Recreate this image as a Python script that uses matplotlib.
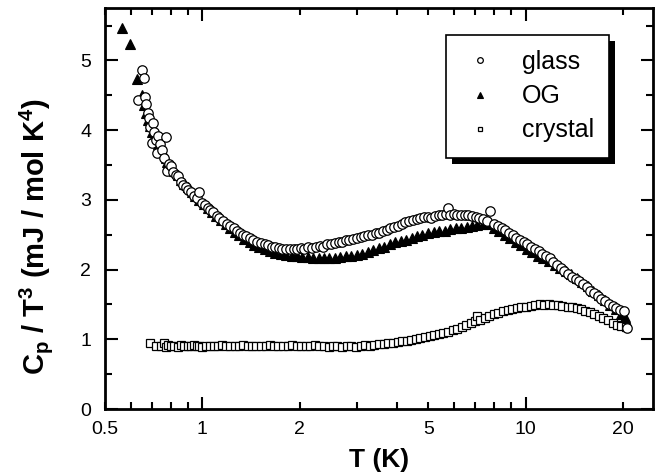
import matplotlib
matplotlib.use("Agg")
import matplotlib.pyplot as plt
from matplotlib.ticker import FixedLocator, FuncFormatter
from matplotlib.patches import Rectangle

plt.rcParams['font.family'] = ['Liberation Sans', 'DejaVu Sans']
plt.rcParams['mathtext.default'] = 'regular'

# ---------------- data ----------------
glass_T = [
    0.634, 0.65, 0.66, 0.665, 0.67, 0.68, 0.685, 0.69, 0.70, 0.705,
    0.71, 0.72, 0.725, 0.73, 0.74, 0.75, 0.76, 0.77, 0.78, 0.79,
    0.80, 0.81, 0.83, 0.84, 0.86, 0.87, 0.89, 0.90, 0.92, 0.94,
    0.96, 0.98, 1.00, 1.02, 1.04, 1.06, 1.08, 1.11, 1.13, 1.16,
    1.19, 1.22, 1.25, 1.28, 1.31, 1.34, 1.37, 1.40, 1.44, 1.48,
    1.52, 1.56, 1.60, 1.64, 1.68, 1.73, 1.77, 1.82, 1.87, 1.92,
    1.97, 2.02, 2.07, 2.13, 2.19, 2.25, 2.31, 2.37, 2.43, 2.50,
    2.57, 2.64, 2.71, 2.78, 2.85, 2.93, 3.01, 3.09, 3.17, 3.26,
    3.35, 3.44, 3.53, 3.62, 3.72, 3.82, 3.92, 4.03, 4.14, 4.25,
    4.36, 4.48, 4.60, 4.72, 4.85, 4.98, 5.11, 5.25, 5.39, 5.53,
    5.68, 5.75, 5.83, 5.99, 6.15, 6.31, 6.48, 6.65, 6.83, 7.01,
    7.20, 7.39, 7.59, 7.79, 8.00, 8.21, 8.43, 8.66, 8.89, 9.13,
    9.37, 9.62, 9.88, 10.14, 10.41, 10.69, 10.98, 11.27, 11.57, 11.88,
    12.20, 12.52, 12.86, 13.20, 13.55, 13.92, 14.29, 14.67, 15.06, 15.46,
    15.88, 16.30, 16.74, 17.18, 17.64, 18.11, 18.60, 19.09, 19.60, 20.12,
    20.6,
]
glass_C = [
    4.43, 4.86, 4.75, 4.48, 4.38, 4.25, 4.18, 4.05, 3.82, 4.10,
    3.98, 3.86, 3.67, 3.92, 3.80, 3.72, 3.60, 3.90, 3.42, 3.52,
    3.48, 3.40, 3.36, 3.34, 3.26, 3.22, 3.18, 3.14, 3.12, 3.05,
    3.02, 3.12, 2.95, 2.92, 2.88, 2.85, 2.82, 2.77, 2.74, 2.70,
    2.66, 2.62, 2.60, 2.56, 2.53, 2.50, 2.48, 2.45, 2.42, 2.40,
    2.38, 2.36, 2.35, 2.33, 2.32, 2.31, 2.30, 2.30, 2.29, 2.30,
    2.29, 2.31, 2.30, 2.32, 2.31, 2.33, 2.34, 2.33, 2.36, 2.37,
    2.38, 2.40, 2.39, 2.42, 2.43, 2.44, 2.46, 2.47, 2.48, 2.50,
    2.50, 2.52, 2.53, 2.55, 2.57, 2.59, 2.61, 2.63, 2.65, 2.68,
    2.70, 2.71, 2.73, 2.74, 2.75, 2.76, 2.74, 2.77, 2.78, 2.79,
    2.80, 2.88, 2.79, 2.80, 2.79, 2.78, 2.79, 2.78, 2.77, 2.76,
    2.74, 2.73, 2.70, 2.84, 2.66, 2.62, 2.60, 2.57, 2.53, 2.50,
    2.46, 2.43, 2.40, 2.36, 2.33, 2.30, 2.26, 2.23, 2.20, 2.16,
    2.11, 2.07, 2.02, 1.98, 1.94, 1.90, 1.86, 1.83, 1.79, 1.75,
    1.70, 1.66, 1.62, 1.58, 1.55, 1.51, 1.48, 1.45, 1.42, 1.40,
    1.16,
]

og_T = [
    0.563, 0.597, 0.627, 0.650, 0.660, 0.67, 0.68, 0.69, 0.70, 0.71,
    0.72, 0.73, 0.74, 0.75, 0.77, 0.78, 0.80, 0.82, 0.84, 0.86,
    0.88, 0.90, 0.93, 0.95, 0.98, 1.01, 1.04, 1.07, 1.10, 1.14,
    1.18, 1.22, 1.26, 1.30, 1.35, 1.40, 1.45, 1.50, 1.56, 1.62,
    1.68, 1.75, 1.82, 1.89, 1.96, 2.04, 2.12, 2.20, 2.29, 2.38,
    2.47, 2.57, 2.67, 2.78, 2.89, 3.00, 3.12, 3.25, 3.38, 3.51,
    3.65, 3.80, 3.95, 4.11, 4.27, 4.44, 4.62, 4.80, 5.00, 5.20,
    5.41, 5.62, 5.85, 6.08, 6.32, 6.57, 6.83, 7.10, 7.38, 7.68,
    7.98, 8.30, 8.63, 8.97, 9.33, 9.70, 10.1, 10.5, 10.9, 11.3,
    11.8, 12.3, 12.8, 13.3, 13.8, 14.4, 15.0, 15.6, 16.2, 16.9,
    17.6, 18.3, 19.0, 19.7, 20.3,
]
og_C = [
    5.46, 5.23, 4.74, 4.51, 4.36, 4.24, 4.14, 4.06, 3.98, 3.92,
    3.86, 3.80, 3.74, 3.69, 3.60, 3.55, 3.48, 3.41, 3.35, 3.29,
    3.23, 3.18, 3.11, 3.06, 3.00, 2.94, 2.88, 2.82, 2.77, 2.71,
    2.65, 2.59, 2.54, 2.49, 2.44, 2.39, 2.35, 2.32, 2.29, 2.26,
    2.24, 2.22, 2.21, 2.20, 2.19, 2.18, 2.18, 2.17, 2.17, 2.16,
    2.17, 2.17, 2.18, 2.19, 2.20, 2.21, 2.23, 2.25, 2.28, 2.31,
    2.33, 2.36, 2.39, 2.41, 2.43, 2.46, 2.48, 2.50, 2.52, 2.54,
    2.55, 2.56, 2.58, 2.59, 2.60, 2.61, 2.63, 2.64, 2.65, 2.66,
    2.60, 2.55, 2.50, 2.45, 2.40, 2.35, 2.30, 2.25, 2.20, 2.16,
    2.12, 2.07, 2.02, 1.98, 1.94, 1.88, 1.82, 1.76, 1.70, 1.63,
    1.56, 1.49, 1.43, 1.37, 1.32,
]

crystal_T = [
    0.69, 0.72, 0.745, 0.76, 0.77, 0.785, 0.80, 0.82, 0.84, 0.86,
    0.88, 0.90, 0.92, 0.94, 0.96, 0.98, 1.00, 1.03, 1.06, 1.09,
    1.12, 1.15, 1.18, 1.22, 1.26, 1.30, 1.34, 1.38, 1.42, 1.47,
    1.52, 1.57, 1.62, 1.67, 1.72, 1.78, 1.84, 1.90, 1.96, 2.02,
    2.09, 2.16, 2.23, 2.30, 2.38, 2.46, 2.54, 2.62, 2.71, 2.80,
    2.89, 2.99, 3.09, 3.19, 3.30, 3.41, 3.52, 3.64, 3.76, 3.89,
    4.02, 4.15, 4.29, 4.43, 4.58, 4.73, 4.89, 5.05, 5.22, 5.39,
    5.57, 5.76, 5.95, 6.15, 6.35, 6.56, 6.78, 7.00, 7.10, 7.23,
    7.47, 7.72, 7.98, 8.24, 8.51, 8.80, 9.09, 9.39, 9.70, 10.0,
    10.4, 10.7, 11.1, 11.4, 11.8, 12.2, 12.6, 13.0, 13.5, 13.9,
    14.4, 14.8, 15.3, 15.8, 16.3, 16.9, 17.4, 18.0, 18.6, 19.2,
    19.8, 20.4,
]
crystal_C = [
    0.94, 0.91, 0.90, 0.95, 0.89, 0.92, 0.90, 0.91, 0.89, 0.92,
    0.90, 0.91, 0.90, 0.92, 0.90, 0.91, 0.89, 0.91, 0.90, 0.91,
    0.90, 0.92, 0.90, 0.91, 0.90, 0.91, 0.92, 0.90, 0.91, 0.90,
    0.91, 0.90, 0.92, 0.91, 0.90, 0.91, 0.90, 0.92, 0.91, 0.90,
    0.91, 0.90, 0.92, 0.90, 0.91, 0.89, 0.90, 0.91, 0.89, 0.90,
    0.91, 0.89, 0.90, 0.92, 0.91, 0.92, 0.93, 0.93, 0.94, 0.95,
    0.96, 0.97, 0.98, 0.99, 1.00, 1.02, 1.03, 1.05, 1.06, 1.08,
    1.09, 1.11, 1.13, 1.15, 1.17, 1.20, 1.23, 1.26, 1.34, 1.28,
    1.31, 1.34, 1.36, 1.38, 1.40, 1.42, 1.43, 1.45, 1.46, 1.47,
    1.48, 1.49, 1.50, 1.49, 1.50, 1.49, 1.49, 1.48, 1.47, 1.46,
    1.45, 1.43, 1.41, 1.39, 1.36, 1.33, 1.30, 1.27, 1.24, 1.21,
    1.19, 1.18,
]

x_major = [1, 10]
x_minor = [0.5, 0.6, 0.7, 0.8, 0.9, 2, 3, 4, 5, 6, 7, 8, 9, 20]
x_labelled = [0.5, 1, 2, 5, 10, 20]
y_major = [0, 1, 2, 3, 4, 5]
y_minor = [0.5, 1.5, 2.5, 3.5, 4.5, 5.5]

# ---------------- figure ----------------
fig = plt.figure(figsize=(6.56, 4.76), dpi=100)
ax = fig.add_axes([105 / 656, 1 - 409 / 476, (653 - 105) / 656, (409 - 7.5) / 476])

ax.plot(crystal_T, crystal_C, linestyle='none', marker='s', ms=5.5,
        mfc='white', mec='black', mew=0.9, label='crystal', zorder=2)
ax.plot(og_T, og_C, linestyle='none', marker='^', ms=7,
        mfc='black', mec='black', mew=0.8, label='OG', zorder=3)
ax.plot(glass_T, glass_C, linestyle='none', marker='o', ms=6.8,
        mfc='white', mec='black', mew=0.9, label='glass', zorder=4)

ax.set_xscale('log')
ax.set_xlim(0.5, 24.8)
ax.set_ylim(0, 5.76)

ax.xaxis.set_major_locator(FixedLocator(x_major))
ax.xaxis.set_minor_locator(FixedLocator(x_minor))
fmt = FuncFormatter(lambda v, p: (('%g' % v) if any(abs(v - t) < 1e-9 for t in x_labelled) else ''))
ax.xaxis.set_major_formatter(fmt)
ax.xaxis.set_minor_formatter(fmt)
ax.yaxis.set_major_locator(FixedLocator(y_major))
ax.yaxis.set_minor_locator(FixedLocator(y_minor))

ax.tick_params(which='both', direction='in', top=True, right=True,
               width=1.5, labelsize=14)
ax.tick_params(axis='x', which='both', pad=9)
ax.tick_params(axis='y', which='both', pad=10)
ax.tick_params(which='major', length=9)
ax.tick_params(which='minor', length=5)
for s in ax.spines.values():
    s.set_linewidth(2)

ax.set_xlabel('T (K)', fontsize=19, fontweight='bold')
ax.xaxis.set_label_coords(0.5, -0.098)
ax.set_ylabel(r'C$_p$ / T$^3$ (mJ / mol K$^4$)', fontsize=21, fontweight='bold')
ax.yaxis.set_label_coords(-0.092, 0.43)

handles, labels = ax.get_legend_handles_labels()
order = [labels.index('glass'), labels.index('OG'), labels.index('crystal')]
leg = ax.legend([handles[i] for i in order], [labels[i] for i in order],
                loc='upper left', bbox_to_anchor=(446 / 656, 1 - 35 / 476),
                bbox_transform=fig.transFigure, borderaxespad=0,
                borderpad=0.6, handlelength=1.5, handletextpad=0.94,
                labelspacing=0.41, markerscale=0.6, fontsize=18,
                fancybox=False, framealpha=1, edgecolor='black')
leg.get_frame().set_linewidth(1.2)
leg.set_zorder(10)

fig.canvas.draw()
bb = leg.get_window_extent().transformed(ax.transAxes.inverted())
dx = 6 / (ax.bbox.width)
dy = 6 / (ax.bbox.height)
ax.add_patch(Rectangle((bb.x0 + dx, bb.y0 - dy), bb.width, bb.height,
                       transform=ax.transAxes, facecolor='black',
                       edgecolor='none', zorder=9, clip_on=False))

fig.savefig('out.png', dpi=100)
